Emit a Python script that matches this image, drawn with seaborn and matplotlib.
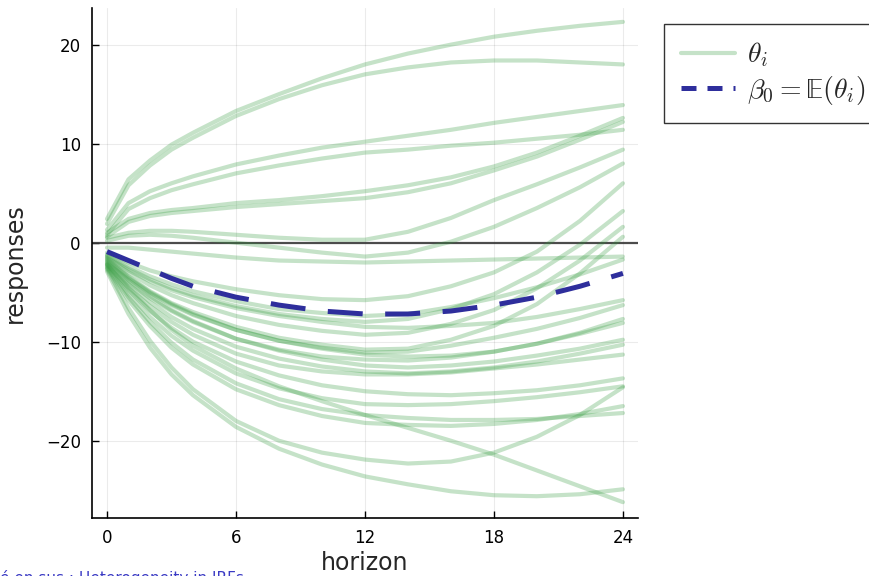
import numpy as np
import pandas as pd
import matplotlib
matplotlib.use("Agg")
import matplotlib.pyplot as plt
import seaborn as sns
from matplotlib.lines import Line2D

sns.set_theme(style="white")
plt.rcParams['font.family'] = ['DejaVu Sans']
plt.rcParams['mathtext.fontset'] = 'cm'
plt.rcParams['mathtext.fallback'] = 'stix'

horizons = [0, 1, 2, 3, 4, 6, 8, 10, 12, 14, 16, 18, 20, 22, 24]

# individual responses theta_i
theta = {
    "A":   [2.4, 6.4, 8.3, 9.9, 11.1, 13.3, 15.0, 16.6, 18.0, 19.1, 20.0, 20.8, 21.4, 21.9, 22.3],
    "B":   [1.9, 5.8, 7.8, 9.4, 10.6, 12.8, 14.5, 15.9, 17.0, 17.7, 18.2, 18.4, 18.4, 18.2, 18.0],
    "C":   [1.3, 4.0, 5.2, 6.0, 6.7, 7.9, 8.8, 9.6, 10.2, 10.8, 11.4, 12.1, 12.7, 13.3, 13.9],
    "D":   [0.8, 3.4, 4.5, 5.3, 5.9, 7.0, 7.8, 8.5, 9.1, 9.4, 9.8, 10.1, 10.5, 10.9, 11.4],
    "E":   [1.0, 2.4, 3.0, 3.3, 3.5, 4.0, 4.3, 4.7, 5.2, 5.8, 6.6, 7.7, 9.1, 10.8, 12.6],
    "F":   [0.6, 2.1, 2.7, 3.0, 3.2, 3.6, 3.9, 4.2, 4.5, 5.1, 6.0, 7.3, 8.7, 10.4, 12.2],
    "G":   [0.5, 1.0, 1.2, 1.2, 1.1, 0.8, 0.5, 0.3, 0.3, 1.1, 2.5, 4.3, 5.9, 7.6, 9.4],
    "R2":  [0.2, 0.7, 0.8, 0.7, 0.5, 0.0, -0.5, -1.0, -1.4, -1.0, 0.1, 1.6, 3.5, 5.6, 8.0],
    "H":   [-0.5, -0.5, -0.7, -0.9, -1.1, -1.5, -1.8, -1.9, -2.0, -1.9, -1.8, -1.7, -1.6, -1.5, -1.4],
    "N1":  [-1.0, -2.0, -2.8, -3.4, -3.9, -4.7, -5.3, -5.7, -5.8, -5.4, -4.4, -3.0, -0.9, 2.2, 6.0],
    "N2":  [-1.3, -2.6, -3.7, -4.6, -5.3, -6.4, -7.2, -7.7, -8.0, -7.7, -6.7, -5.2, -3.0, -0.2, 3.2],
    "N3":  [-1.5, -3.0, -4.3, -5.3, -6.1, -7.4, -8.3, -8.9, -9.3, -9.1, -8.2, -6.8, -4.6, -1.8, 1.6],
    "N4":  [-1.6, -3.4, -4.9, -6.1, -7.0, -8.5, -9.6, -10.3, -10.8, -10.7, -9.8, -8.4, -6.2, -3.1, 0.6],
    "N5":  [-1.2, -2.4, -3.4, -4.2, -4.9, -5.9, -6.7, -7.1, -7.4, -7.2, -6.5, -5.6, -4.5, -3.2, -1.7],
    "N6":  [-1.4, -2.8, -3.9, -4.8, -5.5, -6.6, -7.4, -8.0, -8.5, -8.6, -8.4, -8.1, -7.5, -6.7, -5.8],
    "N7":  [-1.8, -3.6, -5.1, -6.3, -7.3, -8.8, -9.9, -10.6, -11.1, -11.0, -10.4, -9.6, -8.7, -7.6, -6.3],
    "N8":  [-1.7, -3.5, -5.0, -6.2, -7.2, -8.8, -9.9, -10.7, -11.3, -11.5, -11.4, -11.0, -10.2, -9.1, -7.7],
    "N9":  [-2.0, -4.0, -5.6, -6.9, -8.0, -9.7, -10.8, -11.5, -11.8, -11.9, -11.6, -11.0, -10.2, -9.2, -8.1],
    "N10": [-1.9, -3.8, -5.4, -6.8, -7.9, -9.7, -10.9, -11.8, -12.4, -12.6, -12.4, -12.0, -11.4, -10.7, -9.8],
    "N11": [-2.1, -4.2, -6.0, -7.5, -8.7, -10.5, -11.7, -12.5, -13.0, -13.2, -13.0, -12.6, -12.0, -11.2, -10.3],
    "N12": [-2.2, -4.5, -6.4, -8.0, -9.3, -11.2, -12.4, -13.0, -13.3, -13.3, -13.1, -12.7, -12.3, -11.8, -11.3],
    "N13": [-2.3, -4.8, -6.9, -8.6, -10.0, -12.0, -13.4, -14.4, -15.0, -15.3, -15.4, -15.2, -14.9, -14.4, -13.7],
    "N14": [-2.4, -5.2, -7.5, -9.4, -10.9, -13.2, -14.7, -15.7, -16.3, -16.4, -16.3, -16.0, -15.6, -15.1, -14.5],
    "N15": [-2.5, -5.5, -8.0, -10.1, -11.8, -14.2, -15.8, -16.8, -17.4, -17.7, -17.9, -17.9, -17.8, -17.5, -17.2],
    "N16": [-2.6, -5.8, -8.4, -10.6, -12.3, -14.8, -16.4, -17.5, -18.2, -18.4, -18.5, -18.3, -17.9, -17.3, -16.5],
    "N17": [-2.2, -4.6, -6.8, -8.8, -10.4, -12.7, -14.5, -16.0, -17.4, -18.7, -20.0, -21.4, -23.0, -24.6, -26.2],
    "N18": [-2.7, -6.6, -9.9, -12.6, -14.8, -18.0, -20.0, -21.2, -21.9, -22.3, -22.1, -21.2, -19.6, -17.4, -14.6],
    "N19": [-2.9, -7.2, -10.6, -13.3, -15.4, -18.6, -20.8, -22.4, -23.6, -24.4, -25.1, -25.5, -25.6, -25.4, -24.9],
}

# mean response beta_0 = E(theta_i)
beta0 = [-0.9, -1.8, -2.7, -3.6, -4.4, -5.5, -6.3, -6.9, -7.2, -7.2, -6.9, -6.3, -5.5, -4.4, -3.1]

xticks = [0, 6, 12, 18, 24]
yticks = [-20, -10, 0, 10, 20]
ytick_labels = ["\u221220", "\u221210", "0", "10", "20"]

rows = []
for name, vals in theta.items():
    for h, v in zip(horizons, vals):
        rows.append({"unit": name, "horizon": h, "response": v})
df = pd.DataFrame(rows)
df_mean = pd.DataFrame({"horizon": horizons, "response": beta0})

green = "#2f9a3a"
blue = "#2e2e9c"

fig = plt.figure(figsize=(8.7, 5.76), dpi=100)
ax = fig.add_axes([0.1057, 0.1007, 0.6276, 0.8854])

ax.axhline(0, color="#3a3a3a", lw=1.6, alpha=0.9, zorder=1)
sns.lineplot(data=df, x="horizon", y="response", units="unit", estimator=None,
             color=green, alpha=0.28, lw=3.0, ax=ax, zorder=2)
sns.lineplot(data=df_mean, x="horizon", y="response", color=blue, lw=3.6,
             ax=ax, zorder=3)
ax.lines[-1].set_dashes((7, 4.5))

ax.set_xlim(-0.7, 24.7)
ax.set_ylim(-27.8, 23.7)
ax.set_xticks(xticks)
ax.set_yticks(yticks)
ax.set_yticklabels(ytick_labels)
ax.tick_params(axis="both", direction="in", length=5, width=1, labelsize=12,
               colors="black", left=True, bottom=True, pad=8)
ax.grid(True, color="#000000", alpha=0.08, lw=0.8)
for side in ["top", "right"]:
    ax.spines[side].set_visible(False)
for side in ["left", "bottom"]:
    ax.spines[side].set_color("black")
    ax.spines[side].set_linewidth(1.2)
ax.set_xlabel("horizon", fontsize=17, labelpad=3)
ax.set_ylabel("responses", fontsize=17, labelpad=14)

handles = [
    Line2D([0], [0], color=green, alpha=0.28, lw=3.0),
    Line2D([0], [0], color=blue, lw=3.6, dashes=(3.0, 2.2)),
]
leg = fig.legend(handles, [r"$\theta_i$", "$\\beta_0 = \U0001D53C(\\theta_i)$"],
                 loc="upper left", bbox_to_anchor=(664 / 870, 1 - 24 / 576),
                 fontsize=20, frameon=True, fancybox=False, handlelength=1.95,
                 borderpad=0.6, labelspacing=0.15, handletextpad=0.45,
                 borderaxespad=0)
leg.get_frame().set_edgecolor("black")
leg.get_frame().set_linewidth(1.0)

fig.text(0.0, 1 - 570 / 576, "é en sus : Heterogeneity in IRFs",
         color="#3b3bc4", fontsize=11, va="top", ha="left")

fig.savefig("out.png", dpi=100)
